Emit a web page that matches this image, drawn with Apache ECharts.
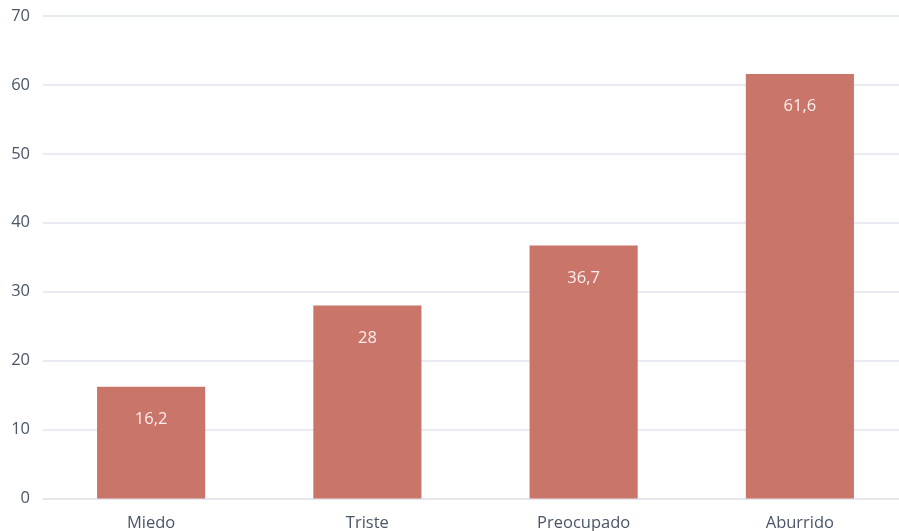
<!DOCTYPE html>
<html><head><meta charset="utf-8">
<script src="https://cdn.jsdelivr.net/npm/echarts@6/dist/echarts.min.js"></script>
<style>html,body{margin:0;padding:0;background:#fff}#c{width:899px;height:531px}</style>
</head><body><div id="c"></div>
<script>
var categories = ['Miedo', 'Triste', 'Preocupado', 'Aburrido'];
var values = [16.2, 28, 36.7, 61.6];
var yTicks = [0, 10, 20, 30, 40, 50, 60, 70];

var chart = echarts.init(document.getElementById('c'), null, {renderer: 'canvas'});
chart.setOption({
  animation: false,
  grid: {left: 43, top: 16, right: -9, bottom: 32.5, containLabel: false, outerBoundsMode: 'none'},
  xAxis: {
    type: 'category', data: categories,
    axisLine: {show: true, lineStyle: {color: '#e1e5ec', width: 1.5}},
    axisTick: {show: false},
    axisLabel: {color: '#4a5568', fontFamily: 'Open Sans', fontSize: 16.5, margin: 16}
  },
  yAxis: {
    type: 'value', min: yTicks[0], max: yTicks[yTicks.length - 1], interval: 10,
    axisLine: {show: false}, axisTick: {show: false},
    splitLine: {lineStyle: {color: '#e1e5ec', width: 1.5}},
    axisLabel: {color: '#4a5568', fontFamily: 'Open Sans', fontSize: 16.5, margin: 13, padding: [4, 0, 0, 0]}
  },
  series: [{
    type: 'bar', data: values, barWidth: '50%',
    itemStyle: {color: '#c9756a'},
    label: {
      show: true, position: 'insideTop', distance: 24,
      color: '#fbeeee', fontFamily: 'Open Sans', fontSize: 16.5,
      formatter: function (p) { return String(p.value).replace('.', ','); }
    }
  }]
});
</script></body></html>
